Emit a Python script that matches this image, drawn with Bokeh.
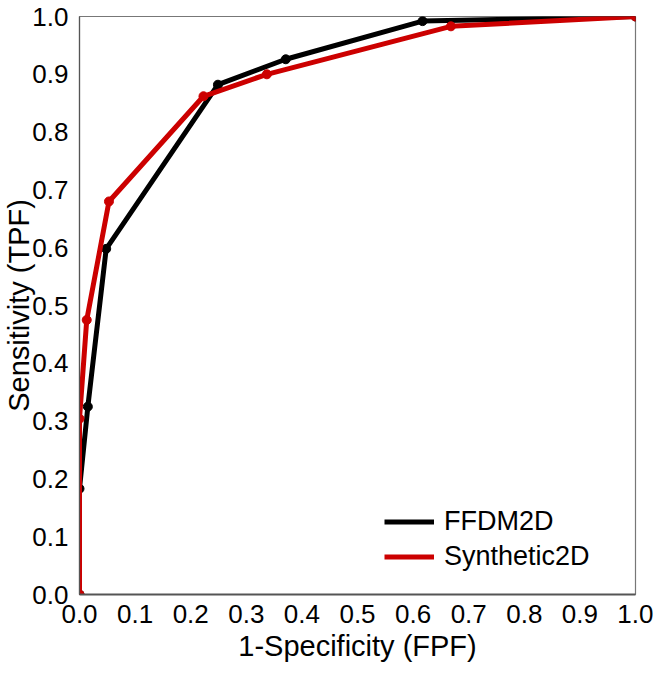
from bokeh.plotting import figure
from bokeh.embed import file_html
from bokeh.resources import INLINE
from bokeh.models import FixedTicker, NumeralTickFormatter, Range1d, Legend, LegendItem

# ROC curve data
ffdm_fpf = [0.0, 0.0, 0.015, 0.048, 0.249, 0.371, 0.617, 1.0]
ffdm_tpf = [0.0, 0.183, 0.325, 0.598, 0.882, 0.926, 0.992, 1.0]
syn_fpf = [0.0, 0.0, 0.013, 0.053, 0.223, 0.337, 0.668, 1.0]
syn_tpf = [0.0, 0.304, 0.475, 0.68, 0.862, 0.900, 0.983, 1.0]
ticks = [0.0, 0.1, 0.2, 0.3, 0.4, 0.5, 0.6, 0.7, 0.8, 0.9, 1.0]

FONT = "Liberation Sans"
BLACK = "#000000"
RED = "#cc0000"

p = figure(width=653, height=664, output_backend="svg", toolbar_location=None,
           x_range=Range1d(0, 1), y_range=Range1d(0, 1),
           min_border_left=60, min_border_right=18, min_border_top=16, min_border_bottom=60)
p.xgrid.visible = False
p.ygrid.visible = False
p.outline_line_color = "#777777"
p.outline_line_width = 1.2
p.background_fill_color = "white"
p.border_fill_color = "white"

for ax in (p.xaxis[0], p.yaxis[0]):
    ax.ticker = FixedTicker(ticks=ticks)
    ax.formatter = NumeralTickFormatter(format="0.0")
    ax.major_tick_line_color = None
    ax.minor_tick_line_color = None
    ax.major_label_text_font = FONT
    ax.major_label_text_font_size = "26px"
    ax.major_label_text_color = "black"
    ax.axis_label_text_font = FONT
    ax.axis_label_text_font_size = "29px"
    ax.axis_label_text_font_style = "normal"
    ax.axis_label_text_color = "black"
    ax.axis_line_color = "#555555"

p.xaxis[0].axis_label = "1-Specificity (FPF)"
p.yaxis[0].axis_label = "Sensitivity (TPF)"
p.xaxis[0].axis_line_width = 2
p.yaxis[0].axis_line_width = 1.2
p.xaxis[0].major_label_standoff = 4
p.xaxis[0].axis_label_standoff = 4
p.yaxis[0].major_label_standoff = 5
p.yaxis[0].axis_label_standoff = -6

l1 = p.line(ffdm_fpf, ffdm_tpf, line_color=BLACK, line_width=5)
p.scatter(ffdm_fpf, ffdm_tpf, size=9, fill_color=BLACK, line_color=BLACK)
l2 = p.line(syn_fpf, syn_tpf, line_color=RED, line_width=5)
p.scatter(syn_fpf, syn_tpf, size=9, fill_color=RED, line_color=RED)

legend = Legend(items=[LegendItem(label="FFDM2D", renderers=[l1]),
                       LegendItem(label="Synthetic2D", renderers=[l2])],
                location=(305, 22), padding=0, margin=0, spacing=4,
                glyph_width=50, glyph_height=31, label_height=31, label_standoff=10,
                label_text_font=FONT, label_text_font_size="27px",
                label_text_color="black",
                border_line_color=None, background_fill_alpha=0)
p.add_layout(legend, "center")

open("out.html", "w").write(file_html(p, INLINE))
